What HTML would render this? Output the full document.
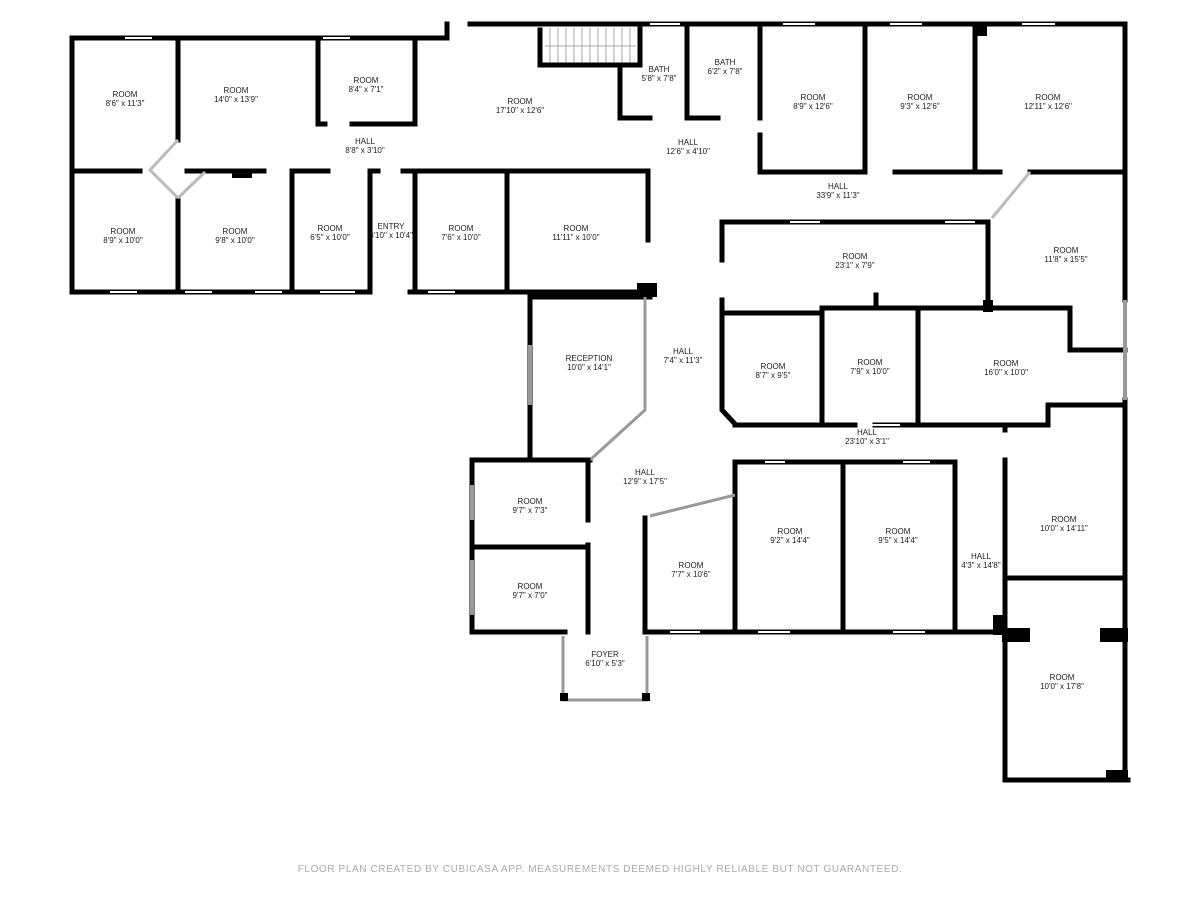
<!DOCTYPE html>
<html><head><meta charset="utf-8"><style>
html,body{margin:0;padding:0;background:#fff;width:1200px;height:900px;overflow:hidden}
svg{display:block}
text{font-family:"Liberation Sans",sans-serif;font-size:8px;fill:#222;text-anchor:middle}
.w{stroke:#000;stroke-width:5;fill:none;stroke-linecap:square}
.win{stroke:#999;stroke-width:4;fill:none}
</style></head><body>
<svg width="1200" height="900" viewBox="0 0 1200 900">
<path class="w" d="M72 38 H447 V24 M470 24 H1125 V300"/>
<path class="w" d="M72 38 V292 H370 M410 292 H650"/>
<rect x="637" y="283" width="20" height="14" fill="#000"/>
<path class="w" d="M530 297 H650 M530 297 V460"/>
<path class="w" d="M472 460 H590 M472 460 V632 H565 M645 632 H1005"/>
<path class="w" d="M1005 632 V780 H1128 M1125 400 V780"/>
<rect x="1002" y="628" width="28" height="14" fill="#000"/>
<rect x="1100" y="628" width="28" height="14" fill="#000"/>
<rect x="993" y="615" width="14" height="20" fill="#000"/>
<rect x="1106" y="770" width="22" height="12" fill="#000"/>
<path class="w" d="M178 38 V140 M72 171 H140 M178 200 V292 M187 171 H264 M292 171 H328 M370 171 H378 M403 171 H648"/>
<path class="w" d="M292 171 V292 M370 171 V292 M415 171 V292 M507 171 V292 M648 172 V240"/>
<path class="w" d="M318 38 V124 H325 M352 124 H415 V38"/>
<rect x="232" y="170" width="20" height="8" fill="#000"/>
<path stroke="#bbb" stroke-width="3" fill="none" d="M178 140 L150 170 L178 198 M178 198 L205 172"/>
<path class="w" d="M540 30 V65 H640 V24"/>
<g stroke="#aaa" stroke-width="1">
<line x1="550" y1="28" x2="550" y2="62"/><line x1="558" y1="28" x2="558" y2="62"/><line x1="566" y1="28" x2="566" y2="62"/><line x1="574" y1="28" x2="574" y2="62"/><line x1="582" y1="28" x2="582" y2="62"/><line x1="590" y1="28" x2="590" y2="62"/><line x1="598" y1="28" x2="598" y2="62"/><line x1="606" y1="28" x2="606" y2="62"/><line x1="614" y1="28" x2="614" y2="62"/><line x1="622" y1="28" x2="622" y2="62"/><line x1="630" y1="28" x2="630" y2="62"/><line x1="545" y1="46" x2="636" y2="46"/></g>
<path class="w" d="M620 65 V118 H650"/>
<path class="w" d="M687 24 V118 H718 M760 24 V118 M760 135 V172 H865 M895 172 H1000 M1030 172 H1125"/>
<path class="w" d="M865 24 V172 M975 24 V172"/>
<rect x="975" y="22" width="12" height="14" fill="#000"/>
<path stroke="#bbb" stroke-width="3" d="M1030 172 L992 218"/>
<path class="w" d="M722 222 H988 V305 M722 222 V260 M722 300 V313 H822 M822 308 H1070 V350 H1125"/>
<path class="w" d="M876 295 V308 M822 308 V422 M918 308 V422 M722 313 V410 L735 424"/>
<path class="w" d="M735 425 H855 M875 425 H1048 V405 H1125"/>
<rect x="983" y="300" width="10" height="12" fill="#000"/>
<path class="w" d="M735 462 H955 M843 462 V632 M955 462 V632 M735 462 V632"/>
<path class="w" d="M1005 425 V430 M1005 460 V632 M1005 578 H1125"/>
<path class="w" d="M645 518 V632"/>
<path stroke="#999" stroke-width="3" d="M650 516 L735 495"/>
<path stroke="#999" stroke-width="3" fill="none" d="M645 297 V410 L590 460"/>
<path class="w" d="M472 547 H588 M588 460 V520 M588 545 V632"/>
<path stroke="#999" stroke-width="3" fill="none" d="M563 636 V700 H647 V636"/>
<rect x="560" y="693" width="8" height="8" fill="#000"/><rect x="642" y="693" width="8" height="8" fill="#000"/>
<g class="win"><line x1="1125" y1="300" x2="1125" y2="400"/><line x1="472" y1="485" x2="472" y2="520"/><line x1="472" y1="560" x2="472" y2="615"/><line x1="530" y1="345" x2="530" y2="405"/></g>
<g stroke="#fff" stroke-width="2">
<line x1="125" y1="38" x2="152" y2="38"/><line x1="323" y1="38" x2="350" y2="38"/><line x1="650" y1="24" x2="680" y2="24"/><line x1="783" y1="24" x2="815" y2="24"/><line x1="890" y1="24" x2="922" y2="24"/><line x1="1022" y1="24" x2="1055" y2="24"/>
<line x1="110" y1="292" x2="137" y2="292"/><line x1="185" y1="292" x2="212" y2="292"/><line x1="255" y1="292" x2="282" y2="292"/><line x1="320" y1="292" x2="355" y2="292"/><line x1="428" y1="292" x2="455" y2="292"/>
<line x1="670" y1="632" x2="700" y2="632"/><line x1="758" y1="632" x2="790" y2="632"/><line x1="893" y1="632" x2="925" y2="632"/>
<line x1="790" y1="222" x2="820" y2="222"/><line x1="945" y1="222" x2="975" y2="222"/><line x1="765" y1="462" x2="785" y2="462"/><line x1="903" y1="462" x2="930" y2="462"/><line x1="872" y1="425" x2="900" y2="425"/>
</g>
<text x="125" y="97">ROOM</text><text x="125" y="106">8'6" x 11'3"</text>
<text x="236" y="93">ROOM</text><text x="236" y="102">14'0" x 13'9"</text>
<text x="366" y="83">ROOM</text><text x="366" y="92">8'4" x 7'1"</text>
<text x="520" y="104">ROOM</text><text x="520" y="113">17'10" x 12'6"</text>
<text x="365" y="144">HALL</text><text x="365" y="153">8'8" x 3'10"</text>
<text x="659" y="72">BATH</text><text x="659" y="81">5'8" x 7'8"</text>
<text x="725" y="65">BATH</text><text x="725" y="74">6'2" x 7'8"</text>
<text x="688" y="145">HALL</text><text x="688" y="154">12'6" x 4'10"</text>
<text x="813" y="100">ROOM</text><text x="813" y="109">8'9" x 12'6"</text>
<text x="920" y="100">ROOM</text><text x="920" y="109">9'3" x 12'6"</text>
<text x="1048" y="100">ROOM</text><text x="1048" y="109">12'11" x 12'6"</text>
<text x="838" y="189">HALL</text><text x="838" y="198">33'9" x 11'3"</text>
<text x="123" y="234">ROOM</text><text x="123" y="243">8'9" x 10'0"</text>
<text x="235" y="234">ROOM</text><text x="235" y="243">9'8" x 10'0"</text>
<text x="330" y="231">ROOM</text><text x="330" y="240">6'5" x 10'0"</text>
<text x="391" y="229">ENTRY</text><text x="391" y="238">3'10" x 10'4"</text>
<text x="461" y="231">ROOM</text><text x="461" y="240">7'6" x 10'0"</text>
<text x="576" y="231">ROOM</text><text x="576" y="240">11'11" x 10'0"</text>
<text x="855" y="259">ROOM</text><text x="855" y="268">23'1" x 7'9"</text>
<text x="1066" y="253">ROOM</text><text x="1066" y="262">11'8" x 15'5"</text>
<text x="589" y="361">RECEPTION</text><text x="589" y="370">10'0" x 14'1"</text>
<text x="683" y="354">HALL</text><text x="683" y="363">7'4" x 11'3"</text>
<text x="773" y="369">ROOM</text><text x="773" y="378">8'7" x 9'5"</text>
<text x="870" y="365">ROOM</text><text x="870" y="374">7'9" x 10'0"</text>
<text x="1006" y="366">ROOM</text><text x="1006" y="375">16'0" x 10'0"</text>
<text x="867" y="435">HALL</text><text x="867" y="444">23'10" x 3'1"</text>
<text x="645" y="475">HALL</text><text x="645" y="484">12'9" x 17'5"</text>
<text x="530" y="504">ROOM</text><text x="530" y="513">9'7" x 7'3"</text>
<text x="530" y="589">ROOM</text><text x="530" y="598">9'7" x 7'0"</text>
<text x="691" y="568">ROOM</text><text x="691" y="577">7'7" x 10'6"</text>
<text x="790" y="534">ROOM</text><text x="790" y="543">9'2" x 14'4"</text>
<text x="898" y="534">ROOM</text><text x="898" y="543">9'5" x 14'4"</text>
<text x="981" y="559">HALL</text><text x="981" y="568">4'3" x 14'8"</text>
<text x="1064" y="522">ROOM</text><text x="1064" y="531">10'0" x 14'11"</text>
<text x="1062" y="680">ROOM</text><text x="1062" y="689">10'0" x 17'8"</text>
<text x="605" y="657">FOYER</text><text x="605" y="666">6'10" x 5'3"</text>
<text x="600" y="872" style="font-size:10px;fill:#aaa;letter-spacing:0.6px">FLOOR PLAN CREATED BY CUBICASA APP. MEASUREMENTS DEEMED HIGHLY RELIABLE BUT NOT GUARANTEED.</text>
</svg>
</body></html>
